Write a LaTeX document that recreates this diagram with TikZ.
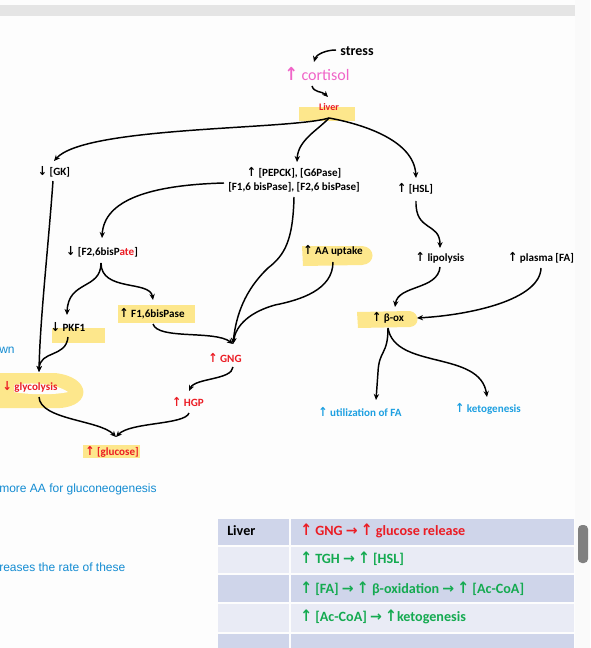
\documentclass[tikz,border=0pt]{standalone}
\usepackage{fontspec}
\setmainfont{Carlito}
\newfontfamily\arrfont{DejaVu Sans Bold}
\newfontfamily\webfont{Liberation Sans}
\usetikzlibrary{arrows.meta}
\definecolor{hl}{RGB}{253,231,140}
\definecolor{pinkc}{RGB}{240,100,200}
\definecolor{redc}{RGB}{235,28,36}
\definecolor{bluec}{RGB}{30,160,225}
\definecolor{linkblue}{RGB}{20,140,210}
\definecolor{greenc}{RGB}{20,170,80}
\definecolor{rowdark}{RGB}{207,213,234}
\definecolor{rowlight}{RGB}{233,235,245}
\definecolor{pagebg}{RGB}{253,253,253}
\newcommand{\myup}{{\arrfont\scalebox{1}[1.12]{↑}}}
\newcommand{\mydn}{{\arrfont\scalebox{1}[1.12]{↓}}}
\newcommand{\myto}{{\arrfont →}}
\begin{document}
\begin{tikzpicture}[x=0.75pt,y=-0.75pt,
  lbl/.style={font=\fontsize{8.3}{10.5}\selectfont\bfseries, inner sep=1pt},
  big/.style={font=\fontsize{10}{12}\selectfont, inner sep=1pt},
  conn/.style={line width=1.1pt, -{Stealth[length=4.5pt,width=4pt]}},
  hlbox/.style={fill=hl, draw=none},
  tabtxt/.style={font=\fontsize{10.6}{12}\selectfont\bfseries, inner sep=0pt, anchor=west},
  webtxt/.style={font=\webfont\fontsize{9}{11}\selectfont, text=linkblue, inner sep=0pt, anchor=west}]
\useasboundingbox (0,0) rectangle (590,648);
% background
\fill[pagebg] (0,0) rectangle (590,648);
\fill[black!10] (0,5) rectangle (575,16);
\fill[black!2] (575,0) rectangle (590,648);

% highlights
\fill[hlbox] (299,107) rectangle (355,121);
\fill[hlbox] (302,246) -- (362,246) .. controls (376,247) and (376,264) .. (362,265) -- (303,266) -- cycle;
\fill[hlbox] (118,305) rectangle (195,323);
\fill[hlbox] (52,328) rectangle (105,343);
\fill[hlbox] (357,312) -- (410,311) .. controls (420,313) and (420,326) .. (410,327) -- (358,328) -- cycle;
\fill[hlbox] (83,445) rectangle (140,458);
\fill[hlbox] (-5,373) -- (55,373) .. controls (92,377) and (92,406) .. (60,408) -- (-5,408) -- cycle;
\fill[pagebg] (14,385) .. controls (30,382) and (55,383) .. (68,392) .. controls (55,395) and (30,395) .. (14,392) -- cycle;

% nodes
\node[big, font=\fontsize{10.5}{12}\selectfont\bfseries] (stress) at (357,51) {stress};
\node[big, text=pinkc, font=\fontsize{12}{14}\selectfont] (cortisol) at (317,74) {\myup{} cortisol};
\node[lbl, text=redc, font=\fontsize{7.5}{9}\selectfont\bfseries] (liver) at (329,107) {Liver};
\node[lbl] (gk) at (54,172) {\mydn{} [GK]};
\node[lbl, align=center] (pepck) at (294,180) {\myup{} [PEPCK], [G6Pase]\\{[F1,6 bisPase], [F2,6 bisPase]}};
\node[lbl] (hsl) at (415,189) {\myup{} [HSL]};
\node[lbl] (f26) at (102,252) {\mydn{} [F2,6bisP\textcolor{redc}{ate}]};
\node[lbl] (aa) at (333,251) {\myup{} AA uptake};
\node[lbl] (lipo) at (440,258) {\myup{} lipolysis};
\node[lbl] (plasma) at (541,258) {\myup{} plasma [FA]};
\node[lbl] (f16) at (152,314) {\myup{} F1,6bisPase};
\node[lbl] (box) at (388,318) {\myup{} β-ox};
\node[lbl] (pkf1) at (68,327) {\mydn{} PKF1};
\node[lbl, text=redc] (gng) at (225,358) {\myup{} GNG};
\node[lbl, text=redc] (glyc) at (30,387) {\mydn{} glycolysis};
\node[lbl, text=redc] (hgp) at (188,402) {\myup{} HGP};
\node[lbl, text=bluec] (util) at (360,412) {\myup{} utilization of FA};
\node[lbl, text=bluec] (keto) at (488,409) {\myup{} ketogenesis};
\node[lbl, text=redc] (glucose) at (112,452) {\myup{} [glucose]};

% connector end points
\coordinate (stressout) at (336,50);
\coordinate (cortin) at (314,62);
\coordinate (cortout) at (312,86);
\coordinate (liverin) at (328,97);
\coordinate (liverout) at (329,118);
\coordinate (gkin) at (54,161);
\coordinate (gkout) at (53,181);
\coordinate (pepckin) at (297,162);
\coordinate (pepckleft) at (224,183);
\coordinate (pepckout) at (294,197);
\coordinate (hslin) at (416,178);
\coordinate (hslout) at (416,201);
\coordinate (f26in) at (102,238);
\coordinate (f26out) at (101,263);
\coordinate (pkf1in) at (67,315);
\coordinate (pkf1out) at (68,337);
\coordinate (f16in) at (153,300);
\coordinate (f16out) at (153,324);
\coordinate (glycin) at (39,372);
\coordinate (glycout) at (39,397);
\coordinate (gngin) at (233,344);
\coordinate (gngout) at (233,367);
\coordinate (hgpin) at (189,391);
\coordinate (hgpout) at (189,413);
\coordinate (glucin) at (116,437);
\coordinate (aaout) at (333,262);
\coordinate (lipoin) at (440,248);
\coordinate (lipoout) at (440,267);
\coordinate (plasmaout) at (541,268);
\coordinate (boxtop) at (395,307);
\coordinate (boxright) at (417,318);
\coordinate (boxout) at (388,328);
\coordinate (utilin) at (376,400);
\coordinate (ketoin) at (487,397);

% connectors
\draw[conn] (stressout) .. controls (325,50) and (316,55) .. (cortin);
\draw[conn] (cortout) .. controls (314,93) and (322,91) .. (liverin);
\draw[conn] (liverout) .. controls (290,130) and (85,126) .. (gkin);
\draw[conn] (liverout) .. controls (318,130) and (298,140) .. (pepckin);
\draw[conn] (liverout) .. controls (362,124) and (414,140) .. (hslin);
\draw[conn] (gkout) .. controls (48,250) and (40,320) .. (glycin);
\draw[conn] (pepckleft) .. controls (150,185) and (104,200) .. (f26in);
\draw[conn] (f26out) .. controls (101,290) and (68,280) .. (pkf1in);
\draw[conn] (f26out) .. controls (101,292) and (150,280) .. (f16in);
\draw[conn] (pkf1out) .. controls (66,358) and (40,350) .. (glycin);
\draw[conn] (f16out) .. controls (158,340) and (215,330) .. (gngin);
\draw[conn] (pepckout) .. controls (293,240) and (285,255) .. (268,268) .. controls (245,290) and (236,315) .. (gngin);
\draw[conn] (aaout) .. controls (333,290) and (300,300) .. (275,305) .. controls (250,312) and (236,325) .. (gngin);
\draw[conn] (gngout) .. controls (232,380) and (195,378) .. (hgpin);
\draw[conn] (hgpout) .. controls (185,425) and (130,422) .. (glucin);
\draw[conn] (glycout) .. controls (40,420) and (100,420) .. (glucin);
\draw[conn] (hslout) .. controls (415,232) and (440,222) .. (lipoin);
\draw[conn] (lipoout) .. controls (438,290) and (398,285) .. (boxtop);
\draw[conn] (plasmaout) .. controls (540,300) and (470,315) .. (boxright);
\draw[conn] (boxout) .. controls (388,355) and (379,350) .. (378,372) -- (utilin);
\draw[conn] (boxout) .. controls (395,370) and (480,350) .. (ketoin);

% left page fragments
\node[webtxt] (wn) at (-1,350) {wn};
\node[webtxt] (moreaa) at (-1,489) {more AA for gluconeogenesis};
\node[webtxt] (reases) at (-1,567) {reases the rate of these};

% table
\fill[rowdark] (218,519) rectangle (289,545);
\fill[rowdark] (291,519) rectangle (574,545);
\fill[rowlight] (218,547) rectangle (289,573);
\fill[rowlight] (291,547) rectangle (574,573);
\fill[rowdark] (218,575) rectangle (289,602);
\fill[rowdark] (291,575) rectangle (574,602);
\fill[rowlight] (218,604) rectangle (289,632);
\fill[rowlight] (291,604) rectangle (574,632);
\fill[rowdark] (218,634) rectangle (289,648);
\fill[rowdark] (291,634) rectangle (574,648);
\node[tabtxt] (tliver) at (227,531) {Liver};
\node[tabtxt, text=redc] (t1) at (300,531) {\myup{} GNG \myto{} \myup{} glucose release};
\node[tabtxt, text=greenc] (t2) at (300,559) {\myup{} TGH \myto{} \myup{} [HSL]};
\node[tabtxt, text=greenc] (t3) at (300,589) {\myup{} [FA] \myto{} \myup{} β-oxidation \myto{} \myup{} [Ac-CoA]};
\node[tabtxt, text=greenc] (t4) at (300,617) {\myup{} [Ac-CoA] \myto{} \myup{}ketogenesis};

% scrollbar
\fill[black!50, rounded corners=3pt] (578,525) rectangle (588,563);
\end{tikzpicture}
\end{document}
